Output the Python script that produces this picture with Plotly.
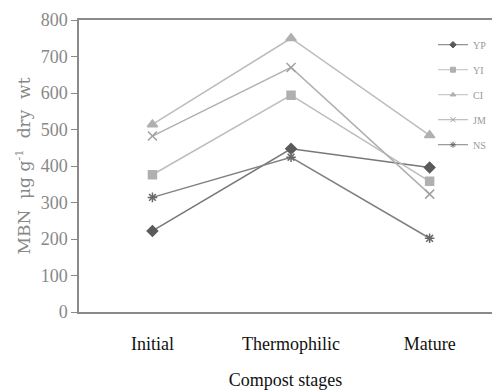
import plotly.graph_objects as go

stages = ["Initial", "Thermophilic", "Mature"]
series_names = ["YP", "YI", "CI", "JM", "NS"]
yp = [222, 447, 396]
yi = [376, 594, 358]
ci = [514, 750, 484]
jm = [482, 670, 323]
ns = [314, 424, 202]
values = [yp, yi, ci, jm, ns]

symbols = ["diamond", "square", "triangle-up", "x-thin", "asterisk"]
colors = ["#5a5a5a", "#b0b0b0", "#b0b0b0", "#a0a0a0", "#6a6a6a"]
line_colors = ["#777777", "#bdbdbd", "#bdbdbd", "#b0b0b0", "#808080"]
sizes = [8, 8, 9, 9, 8]

fig = go.Figure()
for i, (name, vals) in enumerate(zip(series_names, values)):
    fig.add_trace(go.Scatter(
        x=stages, y=vals, name=name, mode="lines+markers",
        legendgroup=name, showlegend=False,
        line=dict(color=line_colors[i], width=1.5),
        marker=dict(symbol=symbols[i], color=colors[i], size=sizes[i],
                    line=dict(color=colors[i], width=1.5)),
    ))
# legend entries with small markers
for i, name in enumerate(series_names):
    fig.add_trace(go.Scatter(
        x=[None], y=[None], name=name, mode="lines+markers",
        legendgroup=name, showlegend=True,
        line=dict(color=line_colors[i], width=1),
        marker=dict(symbol=symbols[i], color=colors[i], size=5,
                    line=dict(color=colors[i], width=1)),
    ))

fig.update_layout(
    width=492, height=390,
    margin=dict(l=79, r=0, t=20, b=78),
    paper_bgcolor="white", plot_bgcolor="white",
    font=dict(family="Liberation Serif", color="#888888"),
    showlegend=True,
    legend=dict(x=1.0, y=0.965, xanchor="right", yanchor="top",
                font=dict(size=10, color="#999999"),
                bgcolor="rgba(0,0,0,0)", tracegroupgap=6,
                itemwidth=30),
    xaxis=dict(range=[-0.53, 2.45], showline=True, linecolor="#8a8a8a",
               linewidth=1.5, mirror=True, showgrid=False, ticks="",
               ticklabelstandoff=15,
               tickfont=dict(size=18, color="#111111", family="Liberation Serif"),
               title=dict(text="Compost stages", standoff=22,
                          font=dict(size=18, color="#111111", family="Liberation Serif"))),
    yaxis=dict(range=[0, 800], dtick=100, showline=True, linecolor="#8a8a8a",
               linewidth=1.5, showgrid=False, ticks="outside", ticklen=6,
               tickcolor="#8a8a8a", zeroline=False,
               tickfont=dict(size=18, color="#888888", family="Liberation Serif"),
               title=dict(text="MBN  μg g<sup>-1</sup>  dry  wt", standoff=6,
                          font=dict(size=17, color="#888888", family="DejaVu Serif"))),
)

fig.write_html("out.html")
